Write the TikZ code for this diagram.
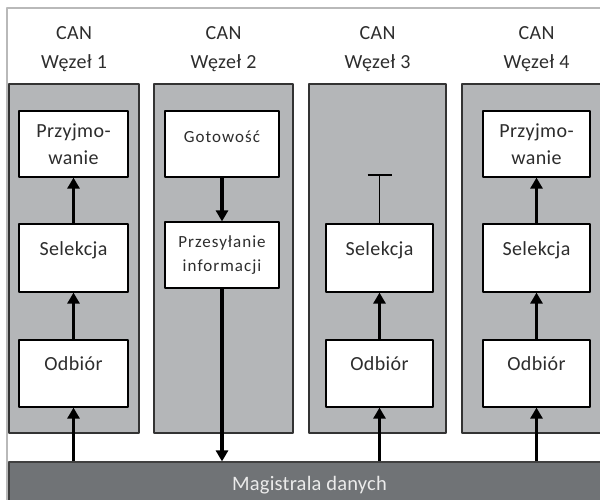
\documentclass[tikz,border=0pt]{standalone}
\usepackage{fontspec}
\setmainfont{Carlito}
\usetikzlibrary{arrows.meta}
\definecolor{panelszary}{RGB}{180,182,184}
\definecolor{magszary}{RGB}{112,115,118}
\definecolor{napis}{RGB}{45,45,45}
\begin{document}
\begin{tikzpicture}[x=1pt, y=-1pt, line join=round, color=napis,
	panel/.style={draw=black!80, line width=1.2pt, fill=panelszary, minimum height=349pt, inner sep=0pt},
	blok/.style={draw=black, line width=1.2pt, fill=white, text=napis, minimum height=67pt, inner sep=0pt, align=center, font=\fontsize{20}{26.5}\selectfont\addfontfeature{LetterSpace=2}},
	jeden/.style={text height=13pt, text depth=19pt},
	maly/.style={font=\fontsize{17}{24}\selectfont\addfontfeature{LetterSpace=6}},
	tytul/.style={align=center, text=napis, font=\fontsize{20}{29}\selectfont\addfontfeature{LetterSpace=2}},
	strz/.style={draw=black, line width=3.5pt, -{Triangle[width=12pt,length=11pt]}}]
	%Obszar rysunku.
	\useasboundingbox (0,0) rectangle (600,499);
	\clip (0,0) rectangle (600,499);
	%Ramka.
	\draw[gray!55, line width=1.5pt] (7,510)--(7,8)--(610,8);
	%Tytuly wezlow.
	\node[tytul] (t1) at (74,49) {CAN\\Węzeł 1};
	\node[tytul] (t2) at (223.5,49) {CAN\\Węzeł 2};
	\node[tytul] (t3) at (377.5,49) {CAN\\Węzeł 3};
	\node[tytul] (t4) at (536.5,49) {CAN\\Węzeł 4};
	%Panele wezlow.
	\node[panel, minimum width=130pt] (k1) at (74,258.5) {};
	\node[panel, minimum width=139pt] (k2) at (223.5,258.5) {};
	\node[panel, minimum width=137pt] (k3) at (377.5,258.5) {};
	\node[panel, minimum width=158pt] (k4) at (541,258.5) {};
	%Magistrala.
	\node[draw=black!75, line width=1.2pt, fill=magszary, minimum width=601pt, minimum height=47pt, text=white!92!black, font=\fontsize{20.5}{24}\selectfont\addfontfeature{LetterSpace=1}] (mag) at (309.5,485.5) {Magistrala danych};
	%Wezel 1.
	\node[blok, minimum width=109pt, minimum height=66pt] (p1) at (73.5,144) {Przyjmo-\\wanie};
	\node[blok, jeden, minimum width=109pt, minimum height=68pt] (s1) at (73.5,258) {Selekcja};
	\node[blok, jeden, minimum width=109pt] (o1) at (73.5,373.5) {Odbiór};
	%Wezel 2.
	\node[blok, maly, text height=12pt, text depth=16pt, minimum width=114pt, minimum height=66pt] (g2) at (222,144) {Gotowość};
	\node[blok, maly, minimum width=114pt, minimum height=66pt] (i2) at (222,255) {Przesyłanie\\informacji};
	%Wezel 3.
	\node[blok, jeden, minimum width=107pt, minimum height=68pt] (s3) at (379.5,258) {Selekcja};
	\node[blok, jeden, minimum width=107pt] (o3) at (379.5,373.5) {Odbiór};
	\coordinate (b3) at (379.5,175);
	%Wezel 4.
	\node[blok, minimum width=107pt, minimum height=66pt] (p4) at (536.5,144) {Przyjmo-\\wanie};
	\node[blok, jeden, minimum width=107pt, minimum height=68pt] (s4) at (536.5,258) {Selekcja};
	\node[blok, jeden, minimum width=107pt] (o4) at (536.5,373.5) {Odbiór};
	%Strzalki.
	\draw[strz] (mag.north -| o1) -- (o1.south);
	\draw[strz] (o1) -- (s1);
	\draw[strz] (s1) -- (p1);
	\draw[strz] (g2) -- (i2);
	\draw[strz] (i2.south) -- (mag.north -| i2);
	\draw[strz] (mag.north -| o3) -- (o3.south);
	\draw[strz] (o3) -- (s3);
	\draw[strz] (mag.north -| o4) -- (o4.south);
	\draw[strz] (o4) -- (s4);
	\draw[strz] (s4) -- (p4);
	%Zakonczenie w wezle 3.
	\draw[black, line width=1.3pt] (s3.north) -- (b3);
	\draw[black, line width=2.8pt] ([xshift=-12pt]b3) -- ([xshift=12pt]b3);
\end{tikzpicture}
\end{document}
